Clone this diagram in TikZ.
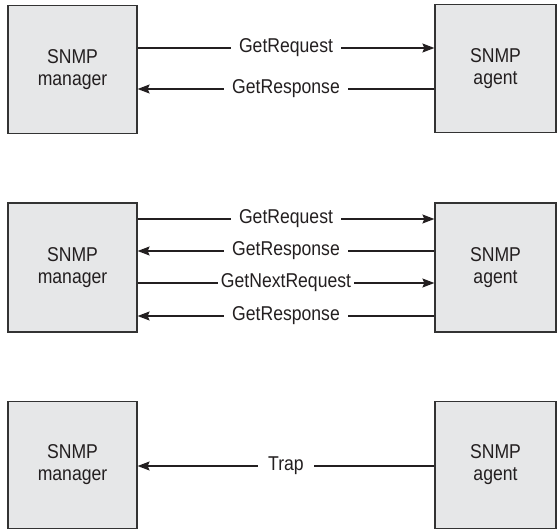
\documentclass[tikz,border=0pt]{standalone}
\usepackage{fontspec}
\setmainfont{Liberation Sans}[FakeStretch=0.88]
\usetikzlibrary{arrows.meta}
\definecolor{boxfill}{HTML}{E6E7E8}
\definecolor{boxline}{HTML}{333333}
\definecolor{ink}{HTML}{231F20}
\begin{document}
\begin{tikzpicture}[x=1pt,y=-1pt,
  every node/.style={text=ink, font=\fontsize{20}{22}\selectfont},
  entity/.style={draw=boxline, line width=1.2pt, fill=boxfill, align=center, inner sep=0pt},
  msg/.style={draw=ink, line width=1.4pt, -{Stealth[length=12pt,width=9pt,inset=2pt]}},
  lbl/.style={fill=white, inner xsep=8pt, inner ysep=1pt}]
\useasboundingbox (0,0) rectangle (557,530);
% row 1
\node[entity, minimum width=129pt, minimum height=128pt] (m1) at (72.5,69.5) {SNMP\\manager};
\node[entity, minimum width=121pt, minimum height=128pt] (a1) at (495.5,68.5) {SNMP\\agent};
\coordinate (m1r1) at (m1.east |- 0,48);
\coordinate (a1r1) at (a1.west |- 0,48);
\coordinate (m1r2) at (m1.east |- 0,89);
\coordinate (a1r2) at (a1.west |- 0,89);
\draw[msg] (m1r1) -- node[lbl] {GetRequest} (a1r1);
\draw[msg] (a1r2) -- node[lbl] {GetResponse} (m1r2);
% row 2
\node[entity, minimum width=129pt, minimum height=129pt] (m2) at (72.5,267.5) {SNMP\\manager};
\node[entity, minimum width=121pt, minimum height=129pt] (a2) at (495.5,267.5) {SNMP\\agent};
\coordinate (m2r1) at (m2.east |- 0,219);
\coordinate (a2r1) at (a2.west |- 0,219);
\coordinate (m2r2) at (m2.east |- 0,251);
\coordinate (a2r2) at (a2.west |- 0,251);
\coordinate (m2r3) at (m2.east |- 0,283);
\coordinate (a2r3) at (a2.west |- 0,283);
\coordinate (m2r4) at (m2.east |- 0,316);
\coordinate (a2r4) at (a2.west |- 0,316);
\draw[msg] (m2r1) -- node[lbl] {GetRequest} (a2r1);
\draw[msg] (a2r2) -- node[lbl] {GetResponse} (m2r2);
\draw[msg] (m2r3) -- node[lbl, inner xsep=3pt] {GetNextRequest} (a2r3);
\draw[msg] (a2r4) -- node[lbl] {GetResponse} (m2r4);
% row 3
\node[entity, minimum width=129pt, minimum height=127pt] (m3) at (72.5,465) {SNMP\\manager};
\node[entity, minimum width=121pt, minimum height=127pt] (a3) at (495.5,465) {SNMP\\agent};
\coordinate (m3r1) at (m3.east |- 0,466);
\coordinate (a3r1) at (a3.west |- 0,466);
\draw[msg] (a3r1) -- node[lbl, inner xsep=10pt] {Trap} (m3r1);
\end{tikzpicture}
\end{document}
